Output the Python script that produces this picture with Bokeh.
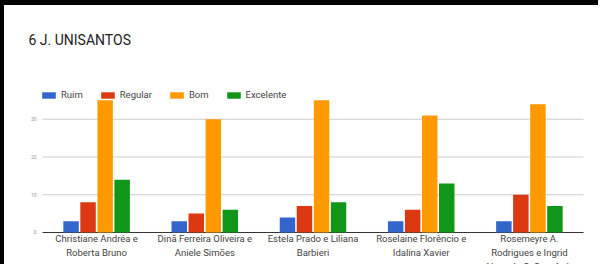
from bokeh.plotting import figure
from bokeh.models import (ColumnDataSource, FactorRange, Range1d, Legend, LegendItem, Label, Div)
from bokeh.transform import dodge
from bokeh.layouts import column, row
from bokeh.embed import file_html
from bokeh.resources import INLINE
from bokeh.core.properties import value

title = "6 J. UNISANTOS"
categories = ["Christiane Andréa e\nRoberta Bruno",
              "Dinã Ferreira Oliveira e\nAniele Simões",
              "Estela Prado e Liliana\nBarbieri",
              "Roselaine Florêncio e\nIdalina Xavier",
              "Rosemeyre A.\nRodrigues e Ingrid\nAlves de C. Scanferla"]
series_names = ["Ruim", "Regular", "Bom", "Excelente"]
ruim = [3, 3, 4, 3, 3]
regular = [8, 5, 7, 6, 10]
bom = [35, 30, 35, 31, 34]
excelente = [14, 6, 8, 13, 7]
y_ticks = [0, 10, 20, 30]
y_tick_labels = ["0", "10", "20", "30"]

colors = ["#3366cc", "#dc3912", "#ff9900", "#109618"]
FONT = "Roboto"

src = ColumnDataSource(dict(cat=categories, Ruim=ruim, Regular=regular, Bom=bom,
                            Excelente=excelente, zero=[0] * len(categories)))
grid_src = ColumnDataSource(dict(y=y_ticks, lab=y_tick_labels,
                                 first=[categories[0]] * len(y_ticks),
                                 last=[categories[-1]] * len(y_ticks),
                                 color=["#333333"] + ["#cccccc"] * (len(y_ticks) - 1)))

p = figure(width=594, height=259,
           x_range=FactorRange(*categories, range_padding=0.1294, range_padding_units="absolute"),
           y_range=Range1d(-8.477, 60.13), output_backend="svg", toolbar_location=None,
           min_border_left=24, min_border_right=1, min_border_top=0, min_border_bottom=0)
p.margin = 0
p.outline_line_color = None
p.axis.visible = False
p.grid.visible = False
p.background_fill_color = "white"
p.border_fill_color = "white"

# gridlines across the category span
p.segment(x0=dodge("first", -0.5, range=p.x_range), x1=dodge("last", 0.5, range=p.x_range),
          y0="y", y1="y", line_color="color", line_width=1, source=grid_src)
# y tick labels
p.text(x=dodge("first", -0.5, range=p.x_range), y="y", text="lab", source=grid_src,
       x_offset=-6, text_align="right", text_baseline="middle", text_font_size="5px",
       text_color="#999999", text_font=value(FONT))

offsets = [-0.236, -0.079, 0.079, 0.236]
items = []
for name, off, col in zip(series_names, offsets, colors):
    r = p.vbar(x=dodge("cat", off, range=p.x_range), top=name, width=0.143, source=src,
               fill_color=col, line_color=None)
    items.append(LegendItem(label=name, renderers=[r]))

# category labels under the baseline
p.text(x="cat", y="zero", text="cat", source=src, y_offset=1, text_align="center",
       text_baseline="top", text_font_size="9.5px", text_color="#444444",
       text_font=value(FONT), text_line_height=1.25)

legend = Legend(items=items, orientation="horizontal", location=(12, 164),
                glyph_width=17, glyph_height=8, label_standoff=4, spacing=16,
                padding=0, margin=0, label_height=8, label_width=10,
                label_text_font_size="9.5px", label_text_color="#444444",
                label_text_font=FONT, border_line_color=None, background_fill_alpha=0)
p.add_layout(legend)

p.add_layout(Label(x=0, y=225, x_units="screen", y_units="screen", text=title,
                   text_font_size="14px", text_font=FONT, text_color="#222222",
                   text_baseline="alphabetic"))

top_band = Div(text="", width=598, height=5, margin=0, styles={"background-color": "black"})
left_band = Div(text="", width=4, height=259, margin=0, styles={"background-color": "black"})
layout = column(top_band, row(left_band, p, spacing=0), spacing=0)
open("out.html", "w").write(file_html(layout, INLINE))
